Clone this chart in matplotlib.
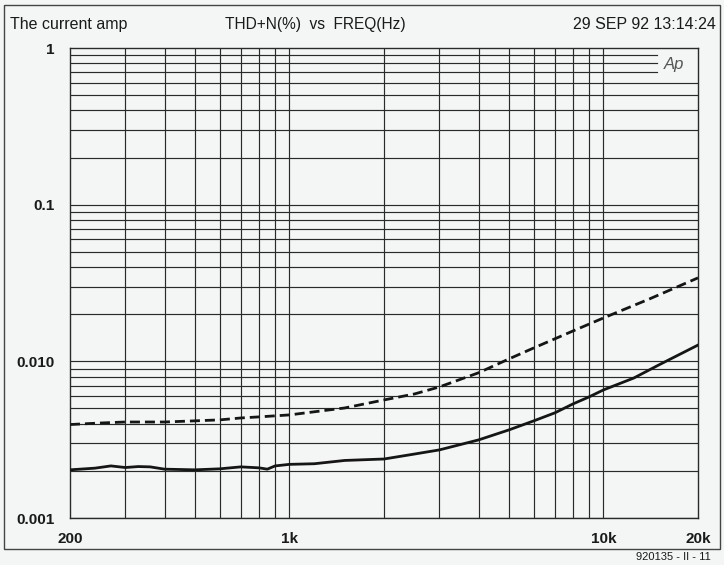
import matplotlib.pyplot as plt
from matplotlib.patches import Rectangle

# THD+N (%)
freq_solid = [200, 240, 270, 300, 330, 360, 400, 500, 600, 700, 800, 850, 900,
              1000, 1200, 1500, 2000, 2500, 3000, 4000, 5000, 6000, 7000, 8000,
              9000, 10000, 12500, 15000, 20000]
thd_solid = [0.00203, 0.00208, 0.00215, 0.00210, 0.00213, 0.00212, 0.00205,
             0.00203, 0.00206, 0.00212, 0.00209, 0.00205, 0.00215, 0.00220,
             0.00222, 0.00233, 0.00238, 0.00256, 0.00272, 0.00315, 0.00365,
             0.00417, 0.00469, 0.00535, 0.00593, 0.00657, 0.00783, 0.00948,
             0.0127]

freq_dashed = [200, 250, 300, 400, 500, 600, 700, 800, 1000, 1500, 2000, 2500,
               3000, 4000, 5000, 6000, 8000, 10000, 14000, 20000]
thd_dashed = [0.00395, 0.00404, 0.00410, 0.00410, 0.00417, 0.00423, 0.00435,
              0.00442, 0.00455, 0.00504, 0.00567, 0.00619, 0.00686, 0.00845,
              0.01036, 0.01218, 0.01563, 0.01892, 0.0250, 0.0341]

x_ticks = [200, 1000, 10000, 20000]
x_labels = ['200', '1k', '10k', '20k']
y_ticks = [0.001, 0.01, 0.1, 1]
y_labels = ['0.001', '0.010', '0.1', '1']

x_grid = [300, 400, 500, 600, 700, 800, 900, 1000,
          2000, 3000, 4000, 5000, 6000, 7000, 8000, 9000, 10000]
y_grid = [m * d for d in (0.001, 0.01, 0.1) for m in range(1, 10)]

paper = '#f4f5f5'
ink = '#2a2a2a'
plt.rcParams['font.family'] = ['Liberation Sans', 'DejaVu Sans']

fig = plt.figure(figsize=(7.24, 5.65), dpi=100, facecolor=paper)
ax = fig.add_axes([70 / 724, 47 / 565, 628 / 724, 470 / 565])
ax.set_facecolor(paper)
ax.set_xscale('log')
ax.set_yscale('log')
ax.set_xlim(200, 20000)
ax.set_ylim(0.001, 1)

# grid drawn by hand: no lines between 10k and 20k, top lines stop before "Ap"
for f in x_grid:
    ax.axvline(f, color=ink, lw=0.85, zorder=1)
for v in y_grid:
    if v > 0.65:
        ax.axhline(v, xmax=0.935, color=ink, lw=0.85, zorder=1)
    else:
        ax.axhline(v, color=ink, lw=0.85, zorder=1)

ax.plot(freq_dashed, thd_dashed, color='#151515', lw=2.0, ls=(0, (3.6, 1.8)), zorder=3)
ax.plot(freq_solid, thd_solid, color='#151515', lw=2.0, zorder=3)

for s in ax.spines.values():
    s.set_color(ink)
    s.set_linewidth(1.0)

ax.set_xticks(x_ticks, x_labels)
ax.set_yticks(y_ticks, y_labels)
ax.minorticks_off()
ax.tick_params(length=0, labelsize=11, colors='#1a1a1a')
ax.tick_params(axis='x', pad=10)
ax.tick_params(axis='y', pad=11)
for lab in ax.get_xticklabels() + ax.get_yticklabels():
    lab.set_fontweight('bold')

ax.text(0.945, 0.965, 'Ap', transform=ax.transAxes, fontsize=12,
        style='italic', color='#555555', fontweight='light', va='center')

# header
fig.text(10 / 724, 1 - 29 / 565, 'The current amp', fontsize=11.5, color='#1a1a1a')
fig.text(315 / 724, 1 - 29 / 565, 'THD+N(%)  vs  FREQ(Hz)', fontsize=11.2,
         ha='center', color='#1a1a1a')
fig.text(716 / 724, 1 - 29 / 565, '29 SEP 92 13:14:24', fontsize=11.5,
         ha='right', color='#1a1a1a')
fig.text(711 / 724, 1 - 560 / 565, '920135 - II - 11', fontsize=8,
         ha='right', color='#1a1a1a')

# outer frame of the figure
fig.patches.append(Rectangle((4 / 724, 1 - 549 / 565), 716 / 724, 544 / 565,
                             transform=fig.transFigure, fill=False,
                             edgecolor='#444444', lw=1.0))

fig.savefig('out.png', dpi=100, facecolor=paper)
